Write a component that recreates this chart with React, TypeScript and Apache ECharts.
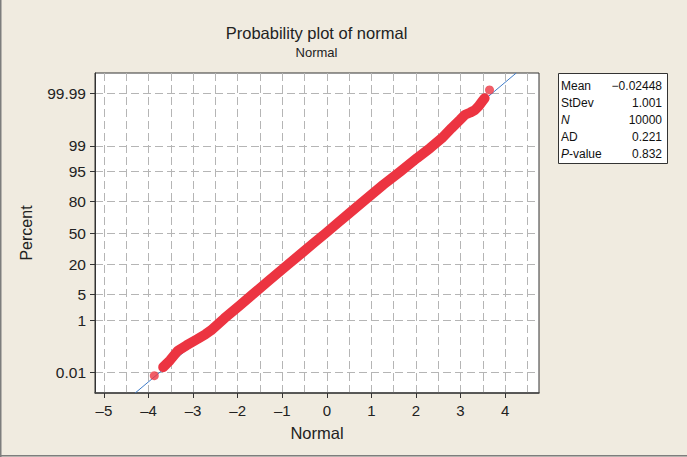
import React, { useEffect, useRef } from 'react';
import * as echarts from 'echarts';

// Data (Normal value, cumulative percent)
const normalValues = [
  -3.67, -3.52, -3.34, -3.15, -2.9, -2.72, -2.6, -2.3, -1.95, -1.67, -1.31, -0.87, -0.55,
  -0.28, -0.02, 0.23, 0.5, 0.82, 1.27, 1.65, 2.02, 2.32, 2.58, 2.8, 2.99, 3.1, 3.22, 3.32,
  3.41, 3.48, 3.54,
];
const percentValues = [
  0.0172, 0.0337, 0.0845, 0.135, 0.233, 0.347, 0.466, 1.13, 2.68, 5, 10, 20, 30, 40, 50, 60,
  70, 80, 90.15, 94.95, 97.7, 98.84, 99.43, 99.744, 99.874, 99.92, 99.935, 99.948, 99.965,
  99.977, 99.984,
];
// isolated extreme points
const tailNormal = [-3.87, 3.65];
const tailPercent = [0.007, 99.9933];

const yTickPercents = [0.01, 1, 5, 20, 50, 80, 95, 99, 99.99];
const yTickLabels = ['0.01', '1', '5', '20', '50', '80', '95', '99', '99.99'];
const xTickValues = [-5, -4, -3, -2, -1, 0, 1, 2, 3, 4];
const xGridValues = [-5, -4.5, -4, -3.5, -3, -2.5, -2, -1.5, -1, -0.5, 0, 0.5, 1, 1.5, 2, 2.5, 3, 3.5, 4, 4.5];

const statLabels = ['Mean', 'StDev', 'N', 'AD', 'P-value'];
const statValues = ['\u22120.02448', '1.001', '10000', '0.221', '0.832'];
const fitMean = -0.02448;
const fitStDev = 1.001;

// inverse standard normal CDF (probability-scale transform)
function probit(p: number): number {
  const a = [-3.969683028665376e1, 2.209460984245205e2, -2.759285104469687e2, 1.38357751867269e2, -3.066479806614716e1, 2.506628277459239];
  const b = [-5.447609879822406e1, 1.615858368580409e2, -1.556989798598866e2, 6.680131188771972e1, -1.328068155288572e1];
  const c = [-7.784894002430293e-3, -3.223964580411365e-1, -2.400758277161838, -2.549732539343734, 4.374664141464968, 2.938163982698783];
  const d = [7.784695709041462e-3, 3.224671290700398e-1, 2.445134137142996, 3.754408661907416];
  const plow = 0.02425;
  const phigh = 1 - plow;
  if (p < plow) {
    const q = Math.sqrt(-2 * Math.log(p));
    return (((((c[0] * q + c[1]) * q + c[2]) * q + c[3]) * q + c[4]) * q + c[5]) / ((((d[0] * q + d[1]) * q + d[2]) * q + d[3]) * q + 1);
  }
  if (p <= phigh) {
    const q = p - 0.5;
    const r = q * q;
    return ((((((a[0] * r + a[1]) * r + a[2]) * r + a[3]) * r + a[4]) * r + a[5]) * q) / (((((b[0] * r + b[1]) * r + b[2]) * r + b[3]) * r + b[4]) * r + 1);
  }
  const q = Math.sqrt(-2 * Math.log(1 - p));
  return -(((((c[0] * q + c[1]) * q + c[2]) * q + c[3]) * q + c[4]) * q + c[5]) / ((((d[0] * q + d[1]) * q + d[2]) * q + d[3]) * q + 1);
}

const FONT = "'Liberation Sans', Arial, Helvetica, sans-serif";
const RED = '#EC3441';
const GRID_LINE = { color: '#b5b5b5', width: 1, type: [8, 4] };

export default function App() {
  const ref = useRef<HTMLDivElement>(null);
  useEffect(() => {
    const chart = echarts.init(ref.current!, undefined, { renderer: 'svg' });
    const yMin = -4.27;
    const yMax = 4.27;
    const zTicks = yTickPercents.map((p) => probit(p / 100));
    const fmtX = (v: number) => (v < 0 ? '\u2013' + Math.abs(v) : String(v));
    const fmtY = (v: number) => {
      const i = zTicks.findIndex((z) => Math.abs(z - v) < 1e-6);
      return i >= 0 ? yTickLabels[i] : '';
    };
    const bandData = normalValues.map((x, i) => [x, probit(percentValues[i] / 100)]);
    const tailData = tailNormal.map((x, i) => [x, probit(tailPercent[i] / 100)]);
    const fitData = [
      [fitMean + fitStDev * yMin, yMin],
      [fitMean + fitStDev * yMax, yMax],
    ];
    const boxX = 558;
    const boxY = 73;
    const rowY0 = 86;
    const rowGap = 17;
    const statTexts: any[] = [];
    statLabels.forEach((lab, i) => {
      const y = rowY0 + i * rowGap;
      let textOpt: any;
      if (lab === 'N') {
        textOpt = { text: 'N', fontStyle: 'italic' };
      } else if (lab === 'P-value') {
        textOpt = { text: '{i|P}-value', rich: { i: { fontStyle: 'italic', fontSize: 12, fontFamily: FONT, fill: '#111' } } };
      } else {
        textOpt = { text: lab };
      }
      statTexts.push({
        type: 'text',
        x: boxX + 3,
        y,
        style: { ...textOpt, fontSize: 12, fontFamily: FONT, fill: '#111', align: 'left', verticalAlign: 'middle' },
      });
      statTexts.push({
        type: 'text',
        x: boxX + 104,
        y,
        style: { text: statValues[i], fontSize: 12, fontFamily: FONT, fill: '#111', align: 'right', verticalAlign: 'middle' },
      });
    });

    const option: any = {
      animation: false,
      backgroundColor: '#F0EBE0',
      textStyle: { fontFamily: FONT },
      grid: {
        left: 95,
        right: 148,
        top: 73,
        bottom: 64,
        show: true,
        backgroundColor: '#ffffff',
        borderColor: '#333333',
        borderWidth: 1,
        containLabel: false,
        outerBoundsMode: 'none',
      },
      xAxis: [
        {
          type: 'value',
          min: -5.2,
          max: 4.76,
          position: 'bottom',
          name: 'Normal',
          nameLocation: 'middle',
          nameGap: 31,
          nameTextStyle: { fontSize: 16.5, color: '#222', fontFamily: FONT },
          axisLine: { show: true, onZero: false, lineStyle: { color: '#444', width: 1.5 } },
          axisTick: { show: true, length: 5, customValues: xTickValues, lineStyle: { color: '#333' } },
          axisLabel: { customValues: xTickValues, formatter: fmtX, fontSize: 15, color: '#222', margin: 10, fontFamily: FONT },
          splitLine: { show: false },
        },
        {
          type: 'value',
          min: -5.2,
          max: 4.76,
          position: 'top',
          axisLine: { show: false, onZero: false },
          axisTick: { show: false, customValues: xGridValues },
          axisLabel: { show: false, customValues: xGridValues },
          splitLine: { show: true, lineStyle: GRID_LINE },
        },
      ],
      yAxis: {
        type: 'value',
        min: yMin,
        max: yMax,
        name: 'Percent',
        nameLocation: 'middle',
        nameRotate: 90,
        nameGap: 61,
        nameTextStyle: { fontSize: 16, color: '#222', fontFamily: FONT },
        axisLine: { show: true, onZero: false, lineStyle: { color: '#333', width: 1 } },
        axisTick: { show: true, length: 5, customValues: zTicks, lineStyle: { color: '#333' } },
        axisLabel: { customValues: zTicks, formatter: fmtY, fontSize: 15.5, color: '#222', margin: 9, fontFamily: FONT },
        splitLine: { show: true, lineStyle: GRID_LINE },
      },
      series: [
        {
          type: 'line',
          xAxisIndex: 0,
          data: fitData,
          symbol: 'none',
          silent: true,
          z: 5,
          lineStyle: { color: '#3F7CC8', width: 1 },
        },
        {
          type: 'line',
          xAxisIndex: 0,
          data: bandData,
          showSymbol: false,
          symbol: 'none',
          silent: true,
          z: 10,
          lineStyle: { color: RED, width: 10, cap: 'round', join: 'round' },
        },
        {
          type: 'scatter',
          xAxisIndex: 0,
          data: tailData,
          symbolSize: 9,
          silent: true,
          z: 10,
          itemStyle: { color: RED },
        },
      ],
      graphic: [
        { type: 'line', shape: { x1: 0.75, y1: 0, x2: 0.75, y2: 457 }, style: { stroke: '#7d7d7d', lineWidth: 1.5 }, silent: true },
        { type: 'line', shape: { x1: 0, y1: 455.75, x2: 687, y2: 455.75 }, style: { stroke: '#7d7d7d', lineWidth: 1.5 }, silent: true },
        {
          type: 'text',
          x: 316.5,
          y: 33,
          style: { text: 'Probability plot of normal', fontSize: 16.5, fontFamily: FONT, fill: '#222', align: 'center', verticalAlign: 'middle' },
        },
        {
          type: 'text',
          x: 316.5,
          y: 52,
          style: { text: 'Normal', fontSize: 13, fontFamily: FONT, fill: '#222', align: 'center', verticalAlign: 'middle' },
        },
        {
          type: 'rect',
          shape: { x: boxX + 0.5, y: boxY + 0.5, width: 109, height: 90 },
          style: { fill: '#ffffff', stroke: '#333333', lineWidth: 1 },
          silent: true,
        },
        ...statTexts,
      ],
    };
    chart.setOption(option);
    return () => chart.dispose();
  }, []);
  return <div ref={ref} style={{ position: 'fixed', left: 0, top: 0, width: 687, height: 457 }} />;
}
